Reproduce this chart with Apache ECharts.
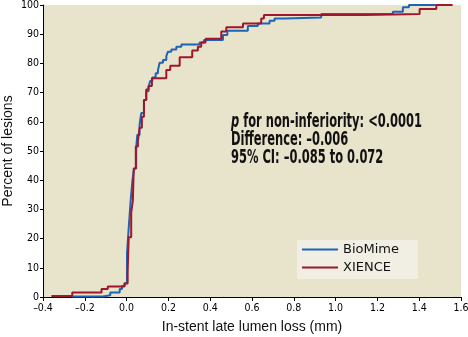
<!DOCTYPE html>
<html>
<head>
<meta charset="utf-8">
<script src="https://cdn.jsdelivr.net/npm/echarts@6/dist/echarts.min.js"></script>
<style>
html,body{margin:0;padding:0;background:#fff;}
#chart{width:468px;height:337px;}
</style>
</head>
<body>
<div id="chart"></div>
<script>
// Cumulative distribution: [late lumen loss (mm), percent of lesions]
const bioMimeLoss = [-0.26,-0.113,-0.078,-0.033,-0.022,-0.01,0.002,0.01,0.019,0.028,0.036,0.046,0.051,0.062,0.070,0.083,0.094,0.105,0.113,0.123,0.139,0.150,0.158,0.174,0.19,0.198,0.214,0.238,0.262,0.349,0.370,0.461,0.482,0.58,0.628,0.684,0.708,0.756,0.931,1.274,1.322,1.351,1.48];
const bioMimePct  = [0.2,0.6,1.5,2.7,3.8,4.7,15,23.5,32.6,40,44,51,55.5,58.9,63,67.5,70.5,72,74,75.2,76.6,77.7,80.2,81.2,82.5,84,84.8,85.7,86.5,87.2,88,89.7,91.2,92.8,93.7,94.6,95.4,95.7,96.9,97.7,99.2,100,100];
const xienceLoss = [-0.36,-0.26,-0.12,-0.09,-0.01,0.005,0.01,0.022,0.03,0.034,0.044,0.054,0.062,0.073,0.083,0.094,0.105,0.121,0.19,0.209,0.254,0.314,0.341,0.357,0.378,0.453,0.477,0.557,0.644,0.657,1.139,1.402,1.482,1.56];
const xiencePct  = [0.3,1.5,2.7,3.6,4.6,8.5,20.5,29,33,44,51.5,53.4,58,61.7,67.5,71.1,72.3,74.9,77.7,79.2,82.1,84.4,85.7,87.2,88.4,90.9,92.4,93.7,95.4,96.6,96.9,98.6,100,100];
const seriesNames = ['BioMime','XIENCE'];
const xTicks = {min:-0.4, max:1.6, step:0.2};
const yTicks = {min:0, max:100, step:10};
const annotationLines = ['{i|p} for non-inferiority: <0.0001','Difference: \u20130.006','95% CI: \u20130.085 to 0.072'];

const zip = (a,b) => a.map((v,i)=>[v,b[i]]);

// font availability / measurement helpers (layout only)
const mctx = document.createElement('canvas').getContext('2d');
function hasFont(f){
  mctx.font = '40px "'+f+'", monospace';
  const a = mctx.measureText('0.123 abcMW').width;
  mctx.font = '40px monospace';
  return Math.abs(a - mctx.measureText('0.123 abcMW').width) > 0.5;
}
const narrowOK = hasFont('Liberation Sans Narrow');
const condFamily = narrowOK ? '"Liberation Sans Narrow"' : '"DejaVu Sans Condensed"';
const tickSize = narrowOK ? 12 : 10.5;
mctx.font = 'bold 20px ' + condFamily;
const annW = mctx.measureText('p for non-inferiority: <0.0001').width;
const annScale = 191 / annW;

const chart = echarts.init(document.getElementById('chart'), null, {renderer:'canvas'});
chart.setOption({
  animation:false,
  backgroundColor:'#ffffff',
  grid:{left:43,right:7,top:5,bottom:40,show:true,backgroundColor:'#e8e3cb',borderWidth:0,
        containLabel:false,outerBoundsMode:'none'},
  xAxis:{
    type:'value',min:xTicks.min,max:xTicks.max,interval:xTicks.step,
    name:'In-stent late lumen loss (mm)',nameLocation:'middle',nameGap:23,nameMoveOverlap:false,
    nameTextStyle:{fontFamily:'"Liberation Sans",Arial,sans-serif',fontSize:14,color:'#111'},
    axisLine:{show:true,onZero:false,lineStyle:{color:'#000',width:1}},
    axisTick:{show:true,length:4,lineStyle:{color:'#000'}},
    axisLabel:{margin:6,fontFamily:condFamily,fontSize:tickSize,color:'#000',
      formatter:v=>v.toFixed(1).replace('-','\u2013')},
    splitLine:{show:false}
  },
  yAxis:{
    type:'value',min:yTicks.min,max:yTicks.max,interval:yTicks.step,
    name:'Percent of lesions',nameLocation:'middle',nameGap:28,nameMoveOverlap:false,
    nameTextStyle:{fontFamily:'"Liberation Sans",Arial,sans-serif',fontSize:14,color:'#111'},
    axisLine:{show:true,onZero:false,lineStyle:{color:'#000',width:1}},
    axisTick:{show:true,length:3,lineStyle:{color:'#000'}},
    axisLabel:{margin:4,fontFamily:condFamily,fontSize:tickSize,color:'#000'},
    splitLine:{show:false}
  },
  legend:{
    orient:'vertical',left:297,top:240,
    backgroundColor:'#f1efe3',padding:[3,19,5,5],itemGap:5,
    itemWidth:36,itemHeight:14,
    textStyle:{fontFamily:'"DejaVu Sans",sans-serif',fontSize:13,color:'#111'},
    data:seriesNames.map(n=>({name:n,icon:'path://M0,6.5L36,6.5L36,8.5L0,8.5Z'}))
  },
  series:[
    {name:seriesNames[0],type:'line',step:'end',showSymbol:false,symbol:'none',
     data:zip(bioMimeLoss,bioMimePct),
     lineStyle:{color:'#1f63b7',width:2},itemStyle:{color:'#1f63b7'},z:2},
    {name:seriesNames[1],type:'line',step:'end',showSymbol:false,symbol:'none',
     data:zip(xienceLoss,xiencePct),
     lineStyle:{color:'#a0172b',width:2},itemStyle:{color:'#a0172b'},z:3}
  ],
  graphic:[{
    type:'text',left:231,top:112,scaleX:annScale,
    style:{
      text:annotationLines.join('\n'),
      fontFamily:condFamily,fontWeight:'bold',fontSize:20,lineHeight:18,fill:'#111',
      rich:{i:{fontStyle:'italic',fontWeight:'bold',fontFamily:condFamily,fontSize:20,lineHeight:18,fill:'#111'}}
    }
  }]
});
</script>
</body>
</html>
